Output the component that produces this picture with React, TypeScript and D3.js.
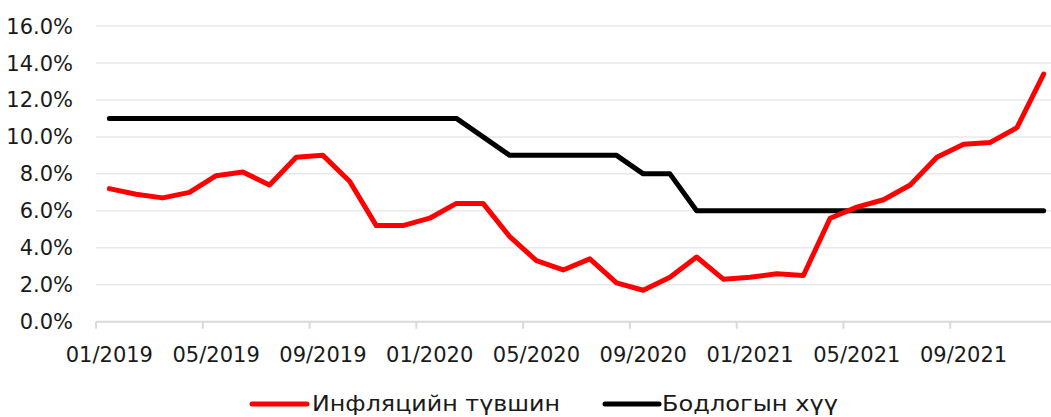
import React from "react";
import * as d3 from "d3";

const months: string[] = [
  "01/2019","02/2019","03/2019","04/2019","05/2019","06/2019","07/2019","08/2019","09/2019","10/2019","11/2019","12/2019",
  "01/2020","02/2020","03/2020","04/2020","05/2020","06/2020","07/2020","08/2020","09/2020","10/2020","11/2020","12/2020",
  "01/2021","02/2021","03/2021","04/2021","05/2021","06/2021","07/2021","08/2021","09/2021","10/2021","11/2021","12/2021",
];

const inflation: number[] = [
  7.2, 6.9, 6.7, 7.0, 7.9, 8.1, 7.4, 8.9, 9.0, 7.6, 5.2, 5.2,
  5.6, 6.4, 6.4, 4.6, 3.3, 2.8, 3.4, 2.1, 1.7, 2.4, 3.5, 2.3,
  2.4, 2.6, 2.5, 5.6, 6.2, 6.6, 7.4, 8.9, 9.6, 9.7, 10.5, 13.4,
];

const policyRate: number[] = [
  11, 11, 11, 11, 11, 11, 11, 11, 11, 11, 11, 11,
  11, 11, 10, 9, 9, 9, 9, 9, 8, 8, 6, 6,
  6, 6, 6, 6, 6, 6, 6, 6, 6, 6, 6, 6,
];

const yTicks: number[] = [0, 2, 4, 6, 8, 10, 12, 14, 16];
const xTickLabels: string[] = ["01/2019","05/2019","09/2019","01/2020","05/2020","09/2020","01/2021","05/2021","09/2021"];

const seriesNames = ["Инфляцийн түвшин", "Бодлогын хүү"];

export default function App() {
  const W = 1051, H = 417;
  const left = 96, right = 1057, top = 26, bottom = 321.7;
  const x = d3.scaleBand<string>().domain(months).range([left, right]).padding(0);
  const y = d3.scaleLinear().domain([0, 16]).range([bottom, top]);
  const cx = (m: string) => (x(m) as number) + x.bandwidth() / 2;
  const line = d3.line<number>().x((_, i) => cx(months[i])).y((d) => y(d));
  const font = "'DejaVu Sans', sans-serif";
  const tickIdx = months.map((m, i) => i).filter((i) => i % 4 === 0);

  return (
    <svg width={W} height={H} style={{ position: "absolute", left: 0, top: 0, background: "#fff" }}>
      <rect x={0} y={0} width={W} height={H} fill="#fff" />
      {yTicks.slice(1).map((t) => (
        <line key={t} x1={left} x2={W} y1={y(t)} y2={y(t)} stroke="#e8e8e8" strokeWidth={1.5} />
      ))}
      <line x1={left} x2={W} y1={y(0)} y2={y(0)} stroke="#d9d9d9" strokeWidth={2} />
      {tickIdx.map((i) => (
        <line key={i} x1={x(months[i]) as number} x2={x(months[i]) as number} y1={y(0)} y2={y(0) + 7} stroke="#d9d9d9" strokeWidth={2} />
      ))}
      {yTicks.map((t) => (
        <text key={t} x={73} y={y(t)} dy="0.36em" textAnchor="end" fontFamily={font} fontSize={21} fill="#1a1a1a">
          {t.toFixed(1) + "%"}
        </text>
      ))}
      {tickIdx.map((i, k) => (
        <text key={i} x={cx(months[i])} y={362} textAnchor="middle" fontFamily={font} fontSize={21} fill="#1a1a1a">
          {xTickLabels[k]}
        </text>
      ))}
      <path d={line(policyRate) || ""} fill="none" stroke="#000" strokeWidth={5} strokeLinejoin="round" strokeLinecap="round" />
      <path d={line(inflation) || ""} fill="none" stroke="#ff0000" strokeWidth={5} strokeLinejoin="round" strokeLinecap="round" />
      <line x1={252} x2={307} y1={404} y2={404} stroke="#ff0000" strokeWidth={5} strokeLinecap="round" />
      <text x={312} y={411} fontFamily={font} fontSize={21} fill="#1a1a1a" textLength={248} lengthAdjust="spacingAndGlyphs">
        {seriesNames[0]}
      </text>
      <line x1={605} x2={659} y1={404} y2={404} stroke="#000" strokeWidth={5} strokeLinecap="round" />
      <text x={662} y={411} fontFamily={font} fontSize={21} fill="#1a1a1a" textLength={176} lengthAdjust="spacingAndGlyphs">
        {seriesNames[1]}
      </text>
    </svg>
  );
}
